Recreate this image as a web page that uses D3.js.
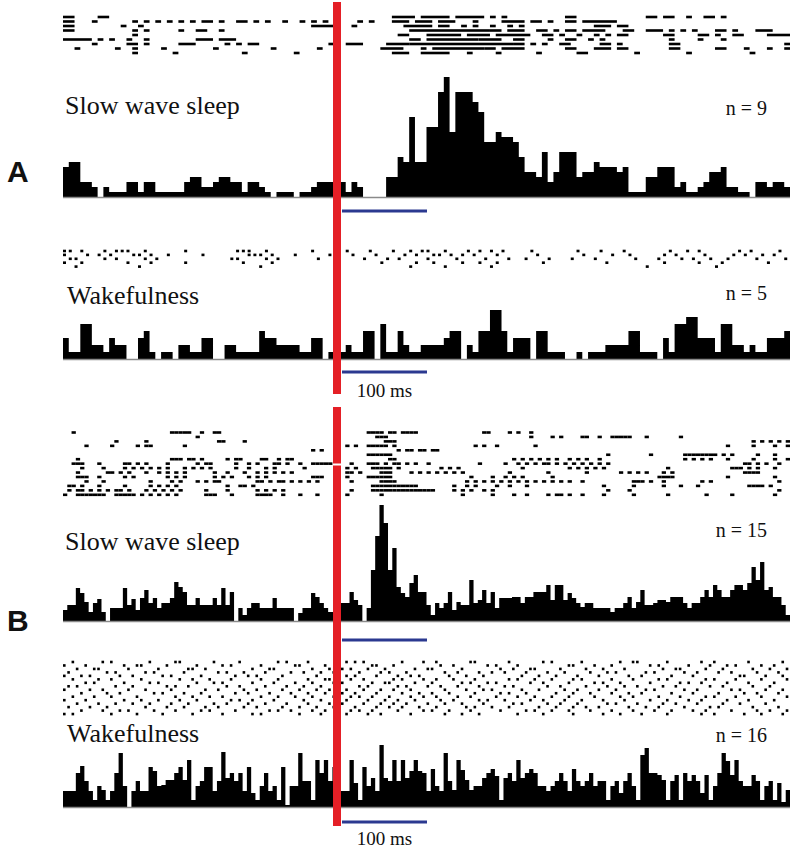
<!DOCTYPE html>
<html lang="en">
<head>
  <meta charset="UTF-8">
  <title>Peri-stimulus rasters and histograms</title>
  <script src="https://d3js.org/d3.v7.min.js"></script>
  <style>
    body {
      margin: 0;
      padding: 0;
      background: #fff;
    }
    .state-label, .n-label, .bar-label {
      font-family: "Liberation Serif", "Times New Roman", serif;
      fill: #111;
    }
    .state-label { font-size: 26px; }
    .n-label { font-size: 20px; }
    .bar-label { font-size: 19px; }
    .panel-letter {
      font-family: "Liberation Sans", Arial, sans-serif;
      font-weight: bold;
      font-size: 30px;
      fill: #111;
    }
  </style>
</head>
<body>
  <div id="chart"></div>
  <script>
    const width = 791, height = 850;

    // bins per sweep: panel A uses coarser bins than panel B
    const binsA = 126, binsB = 170;

    // PSTH counts per bin
    const histA_sws = [
      6,7,7,3,3,2,0,2,1,1, 1,3,3,1,3,3,1,1,1,1, 1,3,4,4,2,2,3,4,4,3, 3,1,3,3,2,1,0,1,1,1,
      0,1,1,2,3,3,3,3,3,1, 3,2,0,0,0,0,4,4,8,7, 16,7,7,14,14,21,24,13,21,21, 21,19,17,11,11,13,12,12,11,8,
      5,5,4,9,3,5,9,9,9,4, 5,5,7,6,6,6,5,6,1,1, 1,4,4,6,6,6,2,3,1,1, 2,3,5,5,6,2,2,1,1,0,
      3,3,2,3,3,2
    ];
    const histA_wake = [
      3,1,1,5,5,2,2,1,3,2, 2,0,0,3,4,1,0,1,1,0, 2,2,1,1,3,3,0,0,2,2, 1,1,1,1,4,3,3,2,2,2,
      2,1,1,3,3,0,1,1,1,2, 1,1,4,4,0,5,1,1,4,2, 1,1,2,2,2,2,3,4,4,0, 2,1,4,4,7,7,4,1,3,3,
      3,0,4,4,1,1,1,0,0,1, 0,1,1,1,2,2,2,2,4,4, 1,1,1,0,3,1,5,5,6,6, 3,3,3,1,5,5,2,2,1,2,
      1,1,3,3,3,4
    ];
    const histB_sws = [
      11,16,16,33,28,19,9,18,22,9, 0,13,13,13,33,16,22,11,23,31, 18,23,13,18,18,23,39,34,29,16,
      16,23,16,16,16,23,16,33,16,29, 0,13,6,13,18,18,13,13,13,23, 13,13,13,13,0,8,13,13,28,24,
      18,13,9,9,9,18,18,29,21,16, 0,13,51,85,116,98,51,73,34,28, 24,38,46,29,29,16,6,18,13,18,
      29,11,19,16,16,41,18,21,31,18, 29,13,23,23,23,24,24,18,24,24, 29,29,29,36,21,36,36,21,28,23,
      18,14,18,18,13,13,13,13,9,13, 13,18,24,13,19,31,16,16,18,21, 21,19,24,24,24,18,13,18,18,24,
      31,24,36,31,24,24,31,36,36,31, 38,54,41,59,31,34,24,24,16,6
    ];
    const histB_wake = [
      16,16,16,34,41,26,16,7,21,17, 7,16,34,54,21,0,16,26,16,16, 40,36,21,22,27,27,34,40,27,47,
      7,21,26,40,40,16,26,55,29,34, 26,34,16,40,14,7,21,34,16,21, 7,40,2,21,21,54,26,26,7,47,
      34,47,26,40,40,16,16,47,24,7, 40,21,29,16,62,29,26,47,26,47, 29,36,47,36,34,16,38,21,16,54,
      26,17,47,37,27,17,21,21,29,34, 38,31,7,29,34,26,47,29,34,38, 34,21,21,16,21,26,34,26,16,38,
      26,21,26,34,21,26,26,7,21,26, 14,26,34,21,7,52,59,34,34,32, 27,7,26,32,7,34,26,32,26,14,
      32,7,21,34,54,46,32,47,26,21, 21,32,26,7,21,26,7,24,5,17
    ];

    // raster rows: spike bins, [a, b] = consecutive bins a..b
    const rasterA_sws = [
      [[0,1],[6,7],[57,60],[62,66],[68,72],74,76,[87,88],[101,102],[104,105],108,[111,112],114],
      [[0,1],5,12,14,16,18,20,22,[24,25],27,[30,31],33,35,38,41,43,45,51,53,[57,59],[61,63],[65,67],71,[76,79],[81,82],84,[87,88],[90,95]],
      [[0,1],10,13,[43,47],50,[59,63],[65,66],69,71,74,77,79,[92,94],[96,97]],
      [[0,1],12,14,20,[23,24],27,[60,73],[74,75],[77,79],[82,83],85,[87,88],[90,93],[97,98],[101,103],105,107,109,[113,114],116,[120,122]],
      [12,[58,59],[63,68],[70,73],[75,80],[83,84],86,89,92,94,[96,97],[104,105],[110,111],113,[116,117],[122,125]],
      [[0,4],6,8,11,14,[23,25],[27,29],47,[60,61],[63,71],[72,75],[78,79],84,[87,88],91,93,105,110,114],
      [5,[11,12],14,[20,22],28,30,[32,33],46,[49,51],[56,59],[60,77],[78,79],81,83,[86,87],[93,94],96,[105,106],125],
      [2,9,12,17,26,36,44,[55,58],62,[64,72],[73,74],[76,79],[87,88],[92,94],[96,97],[105,106],[113,114],118,122,125],
      [12,19,31,40,[57,59],[62,66],70,75,82,[89,90],99,108,119]
    ];
    const rasterA_wake = [
      [0,1,3,7,9,10,11,14,21,30,31,32,35,43,49,53,57,60,62,63,66,70,72,74,76,81,89,93,97,105,108,110,117,119,124],
      [0,4,6,8,12,13,15,18,24,32,33,34,36,40,46,50,54,59,61,64,65,67,69,71,75,82,90,95,98,104,106,111,116,118,121,123],
      [1,2,7,9,14,16,29,30,35,37,44,52,56,58,63,68,73,77,80,84,88,92,99,103,107,109,112,115,120,125],
      [0,3,11,15,21,31,36,55,61,64,69,72,75,83,94,104,110,114,122],
      [2,13,34,60,66,74,101,113]
    ];
    const rasterB_sws = [
      [2,25,26,27,28,29,32,35,36,71,72,73,74,76,77,79,80,81,82,98,99,104,106,109],
      [31,73,74,75,109,114,116,121,122,125,128,129,130,131,132,136,144],
      [12,19,36,37,42,75,76,77,161,163,165,167,169],
      [5,11,17,19,20,28,66,68,71,72,73,74,75,77,96,98,101,110,155,161,166,169],
      [58,60,78,80,81,83,84,86,87],
      [71,72,73,74,75,76,127,137,145,146,147,148,149,150,151,152,154,156,162,166],
      [3,25,26,27,29,30,32,38,40,41,46,47,50,52,53,76,77,105,107,109,111,113,115,118,120,122,125,145,147,149,151,155,161,166,169],
      [2,3,4,8,14,15,17,19,24,31,33,34,40,43,45,49,50,52,55,58,59,60,61,62,67,71,72,73,75,77,78,80,82,85,97,103,106,108,110,112,113,115,117,119,121,123,125,127,159,160,162,164,167],
      [4,9,14,16,18,20,22,24,28,30,32,34,40,43,47,49,56,66,68,72,73,74,75,76,78,88,90,92,107,118,120,122,124,126,141,156,157,158,160,162,166],
      [3,10,11,13,15,19,22,24,26,28,35,38,42,45,47,49,51,53,66,67,69,74,75,76,81,83,85,87,89,91,93,104,113,122,130,132,134,136,140,142,159,160,161,162],
      [3,4,5,8,14,16,24,26,28,35,37,39,43,45,47,58,59,60,66,71,72,73,74,75,76,95,100,103,105,107,114,139,140,141,142,155,166],
      [5,9,20,25,27,31,33,35,36,45,46,48,50,51,53,55,57,59,67,74,75,76,77,94,96,98,100,102,104,106,108,110,112,114,116,118,121,133,134,135,137,140,149,151,167],
      [1,2,4,8,14,20,22,24,26,38,41,42,44,72,73,74,75,76,77,78,79,80,81,82,91,94,96,101,104,108,126,133,140,144,148,160,161,162,163,165],
      [1,3,4,6,8,10,12,13,15,19,21,23,25,27,33,38,45,47,49,51,67,72,73,74,75,76,77,78,79,80,81,82,83,84,85,86,91,93,95,98,100,127,132,167],
      [0,3,4,5,6,7,8,9,12,13,14,15,16,18,20,22,24,26,33,34,35,39,45,46,47,48,51,55,59,66,74,93,100,105,108,113,115,116,118,121,126,133,141,150,156,166]
    ];
    const rasterB_wake = [
      [2,9,11,20,26,27,35,41,50,52,57,66,68,70,79,84,87,95,96,104,112,114,121,130,133,134,141,149,152,160,168],
      [0,5,14,17,18,24,31,37,39,46,54,55,61,64,72,73,77,88,91,99,101,106,118,119,124,128,137,139,146,151,155,157,163,166],
      [3,7,8,15,22,29,30,33,44,48,49,58,62,65,67,71,75,82,85,86,93,102,105,109,110,116,122,126,131,140,143,144,150,154,161,165,169],
      [1,10,12,19,21,28,36,38,42,47,53,56,60,63,69,74,76,80,89,92,97,100,103,108,113,117,123,127,129,136,138,145,148,153,156,162,167],
      [0,4,6,13,16,23,25,32,40,43,45,51,59,64,66,68,73,78,81,83,90,94,98,107,111,115,120,125,132,135,142,147,158,159,164,168],
      [2,8,11,18,27,30,34,39,46,50,57,61,62,67,70,77,79,84,87,91,96,104,106,110,114,119,121,128,133,139,141,150,152,157,163,169],
      [5,7,14,20,22,31,35,37,44,49,54,58,63,65,72,75,76,82,86,93,95,99,101,109,112,118,124,126,130,137,144,146,149,155,160,166],
      [1,3,12,16,24,26,29,38,41,47,52,56,60,64,69,71,78,80,85,88,92,97,103,105,113,116,122,127,131,134,140,143,151,154,161,165],
      [0,6,9,15,19,25,33,36,42,45,51,55,59,62,66,70,74,77,81,89,94,98,100,107,111,117,120,125,129,136,138,145,148,156,158,164,168],
      [4,10,13,21,23,28,32,40,43,48,53,57,61,65,68,73,79,83,86,90,96,102,104,108,115,119,123,128,132,135,142,147,153,159,162,167],
      [2,7,11,17,26,30,34,37,46,50,54,58,63,67,69,72,76,81,84,87,92,95,101,106,110,114,118,124,130,133,139,144,150,152,157,163,169],
      [0,5,14,18,22,27,31,39,41,44,49,56,60,64,66,71,75,78,82,88,91,97,99,103,109,112,117,121,126,131,137,141,146,149,155,160,166],
      [3,8,12,16,20,25,29,35,38,43,47,52,57,62,65,70,74,77,80,85,89,93,98,105,107,113,116,120,127,129,134,140,143,148,154,158,164],
      [1,6,10,19,24,28,33,36,42,45,51,55,59,63,68,73,76,79,83,87,94,96,100,104,111,115,119,122,125,132,136,139,145,151,153,161,167],
      [4,9,13,15,21,26,32,34,40,48,50,53,58,61,67,69,72,78,84,86,90,95,102,108,110,114,118,123,128,133,138,142,147,150,156,162,165,169],
      [0,2,11,17,23,30,37,44,46,55,60,66,71,74,81,89,93,97,106,112,119,126,130,135,141,149,152,159,163,168]
    ];

    // text
    const panelLetters = ["A", "B"];
    const stateNames = ["Slow wave sleep", "Wakefulness"];
    const trialCounts = [9, 5, 15, 16];
    const scaleBarMs = 100;
    const scaleBarText = "100 ms";

    const svg = d3.select("#chart")
      .append("svg")
      .attr("width", width)
      .attr("height", height)
      .style("display", "block");

    const xA = d3.scaleLinear().domain([0, binsA]).range([63, 790]);
    const xB = d3.scaleLinear().domain([0, binsB]).range([63, 790]);
    // stimulus onset at 0 ms; 100 ms = 85 px
    const xTime = d3.scaleLinear().domain([0, 100]).range([342, 427]);

    // markW: null = spikes fill the whole bin
    const panels = [
      { hist: histA_sws, raster: rasterA_sws, x: xA, base: 197, yMax: 24, yTop: 77,
        rowY0: 17, rowStep: 4.5, markW: null, name: stateNames[0], n: trialCounts[0],
        labelX: 65, labelY: 114, nY: 115, barY: 211, showBarText: false },
      { hist: histA_wake, raster: rasterA_wake, x: xA, base: 359, yMax: 7, yTop: 310,
        rowY0: 251, rowStep: 3.9, markW: 3, name: stateNames[1], n: trialCounts[1],
        labelX: 67, labelY: 304, nY: 300, barY: 372, showBarText: true, barTextY: 397 },
      { hist: histB_sws, raster: rasterB_sws, x: xB, base: 621, yMax: 116, yTop: 505,
        rowY0: 432.5, rowStep: 4.45, markW: null, name: stateNames[0], n: trialCounts[2],
        labelX: 65, labelY: 550, nY: 537, barY: 640, showBarText: false },
      { hist: histB_wake, raster: rasterB_wake, x: xB, base: 807, yMax: 62, yTop: 745,
        rowY0: 662, rowStep: 3.47, markW: 2.6, name: stateNames[1], n: trialCounts[3],
        labelX: 67, labelY: 742, nY: 742, barY: 822, showBarText: true, barTextY: 845 }
    ];

    panels.forEach(p => {
      const g = svg.append("g");
      const y = d3.scaleLinear().domain([0, p.yMax]).range([p.base, p.yTop]);

      // raster
      const marks = [];
      p.raster.forEach((row, r) => {
        row.forEach(s => {
          const [a, b] = Array.isArray(s) ? s : [s, s];
          marks.push({ r, a, b });
        });
      });
      g.selectAll(".spike")
        .data(marks)
        .join("rect")
        .attr("class", "spike")
        .attr("x", d => p.x(d.a))
        .attr("width", d => p.markW ? p.markW : p.x(d.b + 1) - p.x(d.a))
        .attr("y", d => p.rowY0 + d.r * p.rowStep - 1.3)
        .attr("height", 2.6)
        .attr("fill", "#000");

      // histogram as a step area
      const stepData = [...p.hist, p.hist[p.hist.length - 1]];
      const area = d3.area()
        .curve(d3.curveStepAfter)
        .x((d, i) => p.x(i))
        .y0(p.base)
        .y1(d => y(d));
      g.append("path")
        .datum(stepData)
        .attr("d", area)
        .attr("fill", "#000");

      g.append("line")
        .attr("x1", p.x.range()[0])
        .attr("x2", p.x.range()[1])
        .attr("y1", p.base + 0.5)
        .attr("y2", p.base + 0.5)
        .attr("stroke", "#8a8a8a")
        .attr("stroke-width", 1.5);

      g.append("text")
        .attr("class", "state-label")
        .attr("x", p.labelX)
        .attr("y", p.labelY)
        .text(p.name);

      g.append("text")
        .attr("class", "n-label")
        .attr("x", 767)
        .attr("y", p.nY)
        .attr("text-anchor", "end")
        .text("n = " + p.n);

      // 100 ms scale bar
      g.append("line")
        .attr("x1", xTime(0))
        .attr("x2", xTime(scaleBarMs))
        .attr("y1", p.barY)
        .attr("y2", p.barY)
        .attr("stroke", "#2b3990")
        .attr("stroke-width", 3);

      if (p.showBarText) {
        g.append("text")
          .attr("class", "bar-label")
          .attr("x", xTime(scaleBarMs / 2))
          .attr("y", p.barTextY)
          .attr("text-anchor", "middle")
          .text(scaleBarText);
      }
    });

    // stimulus lines (red), drawn just left of onset
    const redSegments = [[2, 394], [407, 463.5], [465.5, 826]];
    svg.selectAll(".stim")
      .data(redSegments)
      .join("rect")
      .attr("class", "stim")
      .attr("x", xTime(0) - 9)
      .attr("width", 8)
      .attr("y", d => d[0])
      .attr("height", d => d[1] - d[0])
      .attr("fill", "#e41f26");

    svg.selectAll(".panel-letter")
      .data(panelLetters)
      .join("text")
      .attr("class", "panel-letter")
      .attr("x", 7)
      .attr("y", (d, i) => [182, 631][i])
      .text(d => d);
  </script>
</body>
</html>
